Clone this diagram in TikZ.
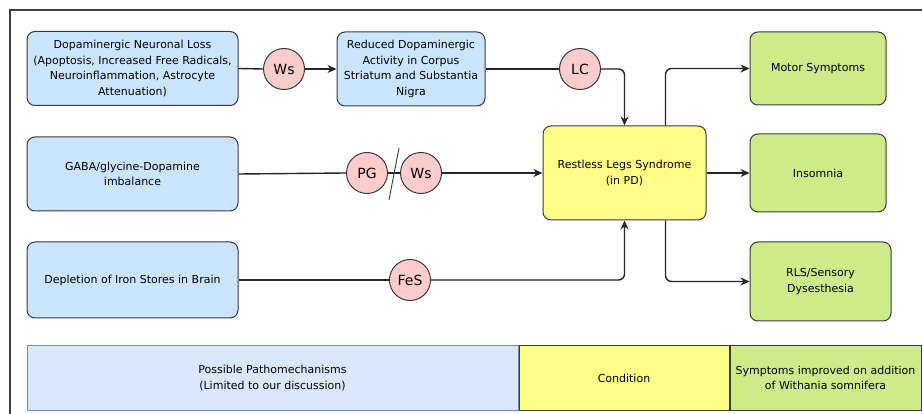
\documentclass[tikz,border=0pt]{standalone}
\usepackage{fontspec}
\setmainfont{DejaVu Sans}
\usetikzlibrary{arrows.meta}

\definecolor{causefill}{HTML}{CCE5FF}
\definecolor{condfill}{HTML}{FFFF88}
\definecolor{sympfill}{HTML}{CDEB8B}
\definecolor{agentfill}{HTML}{FFCCCC}
\definecolor{legendblue}{HTML}{DAE8FC}
\definecolor{legendline}{HTML}{6C8EBF}
\definecolor{linegray}{HTML}{36393D}

\tikzset{
  box/.style={draw=linegray, line width=1pt, rounded corners=8pt, align=center, inner sep=2pt, font=\fontsize{11}{15.5}\selectfont},
  cause/.style={box, fill=causefill},
  cond/.style={box, fill=condfill},
  symp/.style={box, fill=sympfill},
  agent/.style={circle, draw=linegray, line width=1pt, fill=agentfill, minimum size=41pt, inner sep=0pt, font=\fontsize{14}{16}\selectfont},
  link/.style={line width=1.4pt, draw=black!85, rounded corners=6pt},
  arr/.style={link, -{Stealth[length=9pt,width=8pt]}},
  legendbox/.style={draw=linegray, line width=1pt, minimum height=64pt, align=center, inner sep=0pt, font=\fontsize{11}{15.5}\selectfont}
}

\begin{document}
\begin{tikzpicture}[x=1pt, y=-1pt]
  \clip (0,0) rectangle (922,414);
  \fill[white] (0,0) rectangle (922,414);
  % outer frame, runs off the right and bottom edges
  \draw[line width=1.4pt, draw=black!75] (10,10) rectangle (940,430);

  % pathomechanisms
  \node[cause, minimum width=211pt, minimum height=74pt] (loss) at (132.5,68.5) {Dopaminergic Neuronal Loss\\(Apoptosis, Increased Free Radicals,\\Neuroinflammation, Astrocyte\\Attenuation)};
  \node[cause, minimum width=148pt, minimum height=74pt] (reduced) at (411,69) {Reduced Dopaminergic\\Activity in Corpus\\Striatum and Substantia\\Nigra};
  \node[cause, minimum width=211pt, minimum height=74pt] (gaba) at (132.5,174) {GABA/glycine-Dopamine\\imbalance};
  \node[cause, minimum width=211pt, minimum height=76pt] (iron) at (132.5,280) {Depletion of Iron Stores in Brain};

  % condition
  \node[cond, minimum width=163pt, minimum height=94pt] (rls) at (624.5,173) {Restless Legs Syndrome\\(in PD)};

  % symptoms
  \node[symp, minimum width=136pt, minimum height=73pt] (motor) at (818,68.5) {Motor Symptoms};
  \node[symp, minimum width=136pt, minimum height=78pt] (insomnia) at (818,173) {Insomnia};
  \node[symp, minimum width=141pt, minimum height=79pt] (sensory) at (820.5,281.5) {RLS/Sensory\\Dysesthesia};

  % agents
  \node[agent] (ws1) at (284,69) {Ws};
  \node[agent] (lc) at (580,69) {LC};
  \node[agent] (pg) at (367,173) {PG};
  \node[agent] (ws2) at (421,173) {Ws};
  \node[agent] (fes) at (410,280) {FeS};

  % connectors
  \draw[link] (loss.east) -- (ws1.west);
  \draw[arr] (ws1.east) -- (reduced.west);
  \draw[link] (reduced.east) -- (lc.west);
  \draw[arr] (lc.east) -| (rls.north);
  \draw[link] (gaba.east) -- (pg.west);
  \draw[link] (pg.east) -- (ws2.west);
  \draw[arr] (ws2.east) -- (rls.west);
  \draw[link] (iron.east) -- (fes.west);
  \draw[arr] (fes.east) -| (rls.south);
  \draw[arr] ([xshift=41pt]rls.north) |- (motor.west);
  \draw[arr] (rls.east) -- (insomnia.west);
  \draw[arr] ([xshift=41pt]rls.south) |- (sensory.west);
  \draw[line width=0.9pt, draw=linegray] (399,148) -- (389,200);

  % legend
  \node[legendbox, draw=legendline, fill=legendblue, minimum width=491pt] (legcause) at (272.5,378) {Possible Pathomechanisms\\(Limited to our discussion)};
  \node[legendbox, fill=condfill, minimum width=210pt, anchor=west] (legcond) at (legcause.east) {Condition};
  \node[legendbox, fill=sympfill, minimum width=191pt, anchor=west] (legsymp) at (legcond.east) {Symptoms improved on addition\\of Withania somnifera};
\end{tikzpicture}
\end{document}
